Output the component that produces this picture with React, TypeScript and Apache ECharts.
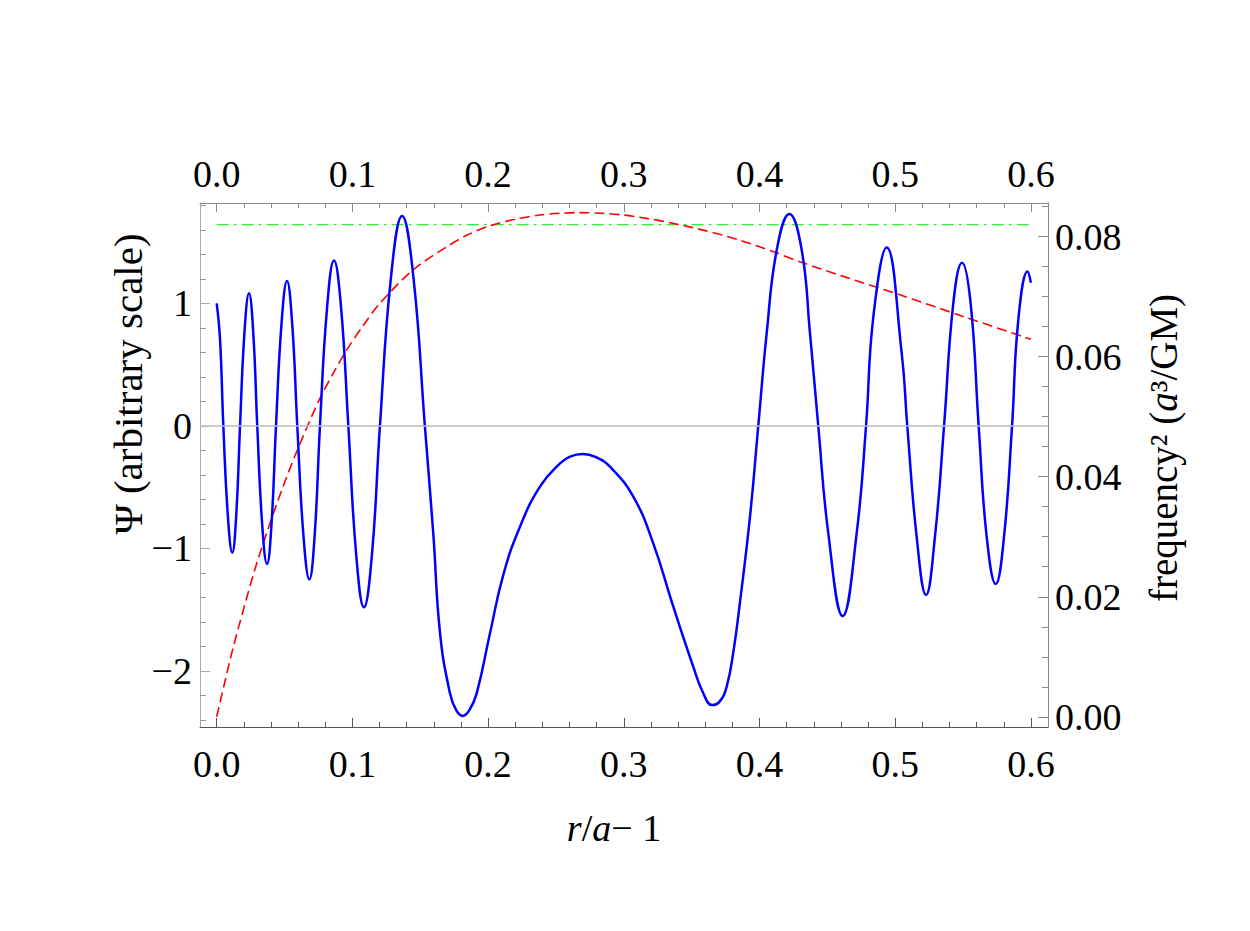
import React, { useEffect, useRef } from "react";
import * as echarts from "echarts";

// ---- data ----
const psiX = [
  0, 0.0025, 0.0049, 0.0082, 0.0115, 0.0144, 0.0172, 0.0205, 0.0238, 0.0269, 0.0299,
  0.0335, 0.0371, 0.0404, 0.0437, 0.0478, 0.0518, 0.0556, 0.0594, 0.0639, 0.0683,
  0.0722, 0.0761, 0.0813, 0.0864, 0.0917, 0.097, 0.1028, 0.1085, 0.1144, 0.1203,
  0.1284, 0.1366, 0.145, 0.1534, 0.1596, 0.1646, 0.1719, 0.1765, 0.1813, 0.1862, 0.1916,
  0.2014, 0.2112, 0.2235, 0.2382, 0.253, 0.2604, 0.2697, 0.2795, 0.2898, 0.307,
  0.3217, 0.3365, 0.3512, 0.3585, 0.365, 0.3706, 0.3758, 0.3808, 0.3856, 0.393,
  0.3991, 0.4053, 0.4127, 0.422, 0.4311,
  0.4372, 0.4433, 0.4507, 0.4613, 0.4716, 0.4785, 0.4839, 0.4937, 0.5048, 0.5089,
  0.5158, 0.5227, 0.5293, 0.536, 0.5428, 0.5492, 0.5556, 0.5615, 0.5674, 0.5741,
  0.5802, 0.5861, 0.5907, 0.5976, 0.6,
];
const psiY = [
  1.0, 0.7, 0, -0.73, -1.034, -0.73, 0, 0.77, 1.083, 0.77, 0,
  -0.8, -1.127, -0.8, 0, 0.84, 1.184, 0.84, 0, -0.89, -1.252,
  -0.89, 0, 0.96, 1.35, 0.96, 0, -1.05, -1.48, -1.05, 0,
  1.21, 1.714, 1.21, 0, -0.876, -1.692, -2.182, -2.32, -2.367, -2.32, -2.182,
  -1.692, -1.215, -0.822, -0.495, -0.305, -0.25, -0.229, -0.255, -0.332, -0.577,
  -0.958, -1.475, -1.965, -2.18, -2.278, -2.25, -2.128, -1.84, -1.44, -0.74,
  0, 0.757, 1.437, 1.731, 1.437,
  0.757, 0, -0.876, -1.551, -0.876, 0, 0.892, 1.456, 0.593, 0,
  -0.903, -1.38, -0.903, 0, 1.0, 1.333, 1.0, 0, -0.903, -1.29,
  -0.903, 0, 0.865, 1.26, 1.17,
];
const freqX = [
  0, 0.006, 0.0123, 0.0205, 0.0282, 0.0368, 0.048, 0.059, 0.0749, 0.0858, 0.0958,
  0.108, 0.1203, 0.1449, 0.1695, 0.185, 0.2014, 0.22, 0.238, 0.253, 0.2665, 0.283,
  0.2996, 0.318, 0.3365, 0.36, 0.3856, 0.41, 0.4298, 0.46, 0.5035, 0.55, 0.6,
];
const freqY = [
  0, 0.0058, 0.0117, 0.0185, 0.0246, 0.0306, 0.0378, 0.0442, 0.0525, 0.0572, 0.0611,
  0.0652, 0.0689, 0.0745, 0.0783, 0.0803, 0.0818, 0.0829, 0.0836, 0.0839, 0.084, 0.0839,
  0.0836, 0.083, 0.0822, 0.081, 0.0794, 0.0775, 0.0758, 0.0735, 0.0703, 0.0667, 0.0629,
];
const levelX = [0, 0.6];
const levelY = [0.082, 0.082];

// ---- axes ----
const xRange = [-0.0123, 0.6126];
const psiRange = [-2.457, 1.82];
const freqRange = [-0.0017, 0.0856];
const xMajor = [0, 0.1, 0.2, 0.3, 0.4, 0.5, 0.6];
const xMinor = [
  0.02, 0.04, 0.06, 0.08, 0.12, 0.14, 0.16, 0.18, 0.22, 0.24, 0.26, 0.28,
  0.32, 0.34, 0.36, 0.38, 0.42, 0.44, 0.46, 0.48, 0.52, 0.54, 0.56, 0.58,
];
const psiMajor = [-2, -1, 0, 1];
const psiMinor = [
  -2.4, -2.2, -1.8, -1.6, -1.4, -1.2, -0.8, -0.6, -0.4, -0.2,
  0.2, 0.4, 0.6, 0.8, 1.2, 1.4, 1.6, 1.8,
];
const freqMajor = [0, 0.02, 0.04, 0.06, 0.08];
const freqMinor = [
  0.005, 0.01, 0.015, 0.025, 0.03, 0.035, 0.045, 0.05, 0.055,
  0.065, 0.07, 0.075, 0.085,
];

const xTitle = "{i|r}/{i|a}\u2212 1";
const psiTitle = "\u03A8 (arbitrary scale)";
const freqTitle = "frequency\u00B2 ({i|a}\u00B3/GM)";

const FONT = "'Liberation Serif', 'Times New Roman', serif";
const FS = 38;

export default function App() {
  const ref = useRef<HTMLDivElement>(null);
  useEffect(() => {
    if (!ref.current) return;
    const chart = echarts.init(ref.current, undefined, { renderer: "svg" });
    const zip = (xs: number[], ys: number[]) => xs.map((x, i) => [x, ys[i]]);
    const labelStyle = { color: "#000", fontFamily: FONT, fontSize: FS };

    const xAx = (pos: string, major: boolean, color: string, margin: number) => ({
      type: "value",
      position: pos,
      min: xRange[0],
      max: xRange[1],
      splitLine: { show: false },
      axisLine: { show: major, onZero: false, lineStyle: { color, width: 1 } },
      axisTick: {
        show: true,
        inside: true,
        length: major ? 9 : 5,
        customValues: major ? xMajor : xMinor,
        lineStyle: { color, width: 1 },
      },
      axisLabel: major
        ? {
            show: true,
            customValues: xMajor,
            formatter: (v: number) => v.toFixed(1),
            margin,
            ...labelStyle,
          }
        : { show: false },
    });
    const yAx = (
      pos: string,
      range: number[],
      majorVals: number[],
      minorVals: number[],
      major: boolean,
      color: string,
      fmt: (v: number) => string,
      margin: number
    ) => ({
      type: "value",
      position: pos,
      min: range[0],
      max: range[1],
      splitLine: { show: false },
      axisLine: { show: major, onZero: false, lineStyle: { color, width: 1 } },
      axisTick: {
        show: true,
        inside: true,
        length: major ? 10 : 6,
        customValues: major ? majorVals : minorVals,
        lineStyle: { color, width: 1 },
      },
      axisLabel: major
        ? { show: true, customValues: majorVals, formatter: fmt, margin, ...labelStyle }
        : { show: false },
    });

    const psiFmt = (v: number) => (v < 0 ? "\u2212" + Math.abs(v) : String(v));
    const freqFmt = (v: number) => v.toFixed(2);

    chart.setOption({
      animation: false,
      grid: { left: 200, top: 203, width: 848, height: 524, containLabel: false },
      xAxis: [
        xAx("bottom", true, "#555", 18),
        xAx("bottom", false, "#555", 0),
        xAx("top", true, "#888", 10),
        xAx("top", false, "#888", 0),
      ],
      yAxis: [
        yAx("left", psiRange, psiMajor, psiMinor, true, "#aaa", psiFmt, 8),
        yAx("left", psiRange, psiMajor, psiMinor, false, "#999", psiFmt, 0),
        yAx("right", freqRange, freqMajor, freqMinor, true, "#888", freqFmt, 7),
        yAx("right", freqRange, freqMajor, freqMinor, false, "#888", freqFmt, 0),
      ],
      series: [
        {
          type: "line",
          name: "zero",
          data: [],
          xAxisIndex: 0,
          yAxisIndex: 0,
          z: 1,
          markLine: {
            silent: true,
            symbol: "none",
            label: { show: false },
            lineStyle: { color: "#bbb", width: 1.5, type: "solid" },
            data: [{ yAxis: 0 }],
          },
        },
        {
          type: "line",
          name: "level",
          data: zip(levelX, levelY),
          xAxisIndex: 0,
          yAxisIndex: 2,
          showSymbol: false,
          symbol: "none",
          z: 2,
          lineStyle: { color: "#33ee33", width: 1.3, type: [12, 5, 3, 5] },
        },
        {
          type: "line",
          name: "freq",
          data: zip(freqX, freqY),
          xAxisIndex: 0,
          yAxisIndex: 2,
          smooth: 0.3,
          symbol: "none",
          z: 3,
          lineStyle: { color: "#ff0000", width: 1.6, type: [10, 5] },
        },
        {
          type: "line",
          name: "psi",
          data: zip(psiX, psiY),
          xAxisIndex: 0,
          yAxisIndex: 0,
          smooth: 0.45,
          symbol: "none",
          z: 4,
          lineStyle: { color: "#0000ff", width: 2.5 },
        },
      ],
      graphic: [
        {
          type: "text",
          x: 614,
          y: 828,
          style: {
            text: xTitle,
            fontFamily: FONT,
            fontSize: FS,
            fill: "#000",
            align: "center",
            verticalAlign: "middle",
            rich: { i: { fontStyle: "italic", fontFamily: FONT, fontSize: FS } },
          },
        },
        {
          type: "text",
          x: 128,
          y: 384,
          rotation: Math.PI / 2,
          style: {
            text: psiTitle,
            fontFamily: FONT,
            fontSize: 41,
            fill: "#000",
            align: "center",
            verticalAlign: "middle",
          },
        },
        {
          type: "text",
          x: 1163,
          y: 448,
          rotation: Math.PI / 2,
          style: {
            text: freqTitle,
            fontFamily: FONT,
            fontSize: 39,
            fill: "#000",
            align: "center",
            verticalAlign: "middle",
            rich: { i: { fontStyle: "italic", fontFamily: FONT, fontSize: 39 } },
          },
        },
      ],
    });
    return () => chart.dispose();
  }, []);
  return (
    <div
      ref={ref}
      style={{ position: "fixed", left: 0, top: 0, width: 1250, height: 931, background: "#fff" }}
    />
  );
}
